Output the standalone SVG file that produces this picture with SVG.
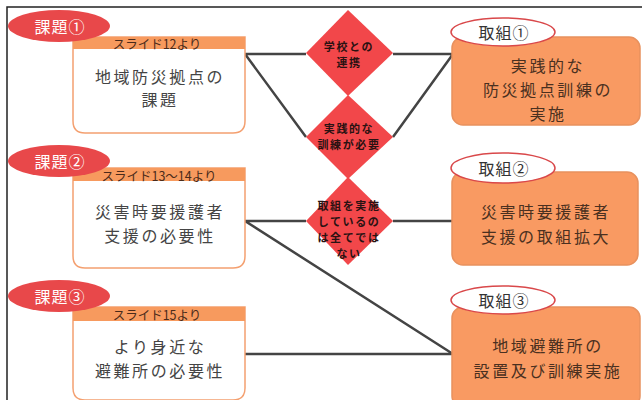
<svg xmlns="http://www.w3.org/2000/svg" width="642" height="400" viewBox="0 0 642 400">
<defs>
<style>
text{font-family:"Noto Sans CJK JP","Noto Sans",sans-serif;text-anchor:middle;dominant-baseline:central}
.tag{fill:#e8484a}
.tagt{fill:#fff;font-size:16px;letter-spacing:1px}
.otag{fill:#fff;stroke:#d9484a;stroke-width:1.5}
.otagt{fill:#333;font-size:16px;letter-spacing:1px}
.lbody{fill:#fff;stroke:#f4a070;stroke-width:1.5}
.lhead{fill:#f79a5e}
.lhdt{fill:#4a2a1a;font-size:12.5px}
.lt{fill:#444;font-size:16px;letter-spacing:2.6px}
.rbox{fill:#f99a62;stroke:#e8915e;stroke-width:1.5}
.rt{fill:#4a3020;font-size:16px;letter-spacing:2.6px}
.dia{fill:#f2474a}
.dt{fill:#2a1212;font-size:11px;letter-spacing:1.6px;font-weight:bold}
.ln{stroke:#444;stroke-width:2.5;fill:none}
</style>
</defs>
<rect x="0" y="0" width="642" height="400" fill="#fff"/>
<rect x="7" y="7" width="650" height="410" fill="none" stroke="#222" stroke-width="1.5"/>

<g id="connectors">
<path class="ln" d="M245 54 H306 M393 54 H453 M245 54 L306 137 M393 137 L453 54"/>
<path class="ln" d="M245 221 H306 M393 221 H453 M245 221 L453 354 M245 354 H453"/>
</g>

<g id="d1"><polygon class="dia" points="348,10 393,53 348,96 306,53"/>
<text class="dt" x="349" y="46">学校との</text><text class="dt" x="349" y="62">連携</text></g>
<g id="d2"><polygon class="dia" points="348,95 393,137 348,179 306,137"/>
<text class="dt" x="349" y="128">実践的な</text><text class="dt" x="349" y="144">訓練が必要</text></g>
<g id="d3"><polygon class="dia" points="348,177 393,221 348,265 306,221"/>
<text class="dt" x="349" y="205">取組を実施</text><text class="dt" x="349" y="221">しているの</text><text class="dt" x="349" y="237">は全てでは</text><text class="dt" x="349" y="253">ない</text></g>

<g id="k1">
<path class="lbody" d="M73 37 H245 V121 Q245 133 233 133 H85 Q73 133 73 121 Z"/>
<rect class="lhead" x="73" y="37" width="172" height="12"/>
<text class="lhdt" x="157" y="43">スライド12より</text>
<text class="lt" x="160" y="76">地域防災拠点の</text><text class="lt" x="160" y="99">課題</text>
<ellipse class="tag" cx="59" cy="26" rx="51" ry="16"/><text class="tagt" x="60" y="26">課題①</text>
</g>
<g id="k2">
<path class="lbody" d="M73 168 H245 V256 Q245 268 233 268 H85 Q73 268 73 256 Z"/>
<rect class="lhead" x="73" y="168" width="172" height="13"/>
<text class="lhdt" x="159" y="175">スライド13〜14より</text>
<text class="lt" x="160" y="211">災害時要援護者</text><text class="lt" x="160" y="235">支援の必要性</text>
<ellipse class="tag" cx="59" cy="161" rx="51" ry="16"/><text class="tagt" x="60" y="161">課題②</text>
</g>
<g id="k3">
<path class="lbody" d="M73 307 H245 V388 Q245 400 233 400 H85 Q73 400 73 388 Z"/>
<rect class="lhead" x="73" y="307" width="172" height="14"/>
<text class="lhdt" x="157" y="314">スライド15より</text>
<text class="lt" x="160" y="346">より身近な</text><text class="lt" x="160" y="370">避難所の必要性</text>
<ellipse class="tag" cx="59" cy="296" rx="51" ry="16"/><text class="tagt" x="60" y="296">課題③</text>
</g>

<g id="t1">
<rect class="rbox" x="452" y="37" width="188" height="88" rx="11"/>
<text class="rt" x="548" y="65">実践的な</text><text class="rt" x="548" y="89">防災拠点訓練の</text><text class="rt" x="548" y="113">実施</text>
<ellipse class="otag" cx="503" cy="32" rx="52" ry="14"/><text class="otagt" x="504" y="32">取組①</text>
</g>
<g id="t2">
<rect class="rbox" x="452" y="172" width="186" height="93" rx="11"/>
<text class="rt" x="546" y="211">災害時要援護者</text><text class="rt" x="546" y="236">支援の取組拡大</text>
<ellipse class="otag" cx="503" cy="168" rx="52" ry="15"/><text class="otagt" x="504" y="168">取組②</text>
</g>
<g id="t3">
<rect class="rbox" x="452" y="307" width="188" height="100" rx="11"/>
<text class="rt" x="548" y="345">地域避難所の</text><text class="rt" x="548" y="370">設置及び訓練実施</text>
<ellipse class="otag" cx="503" cy="300" rx="52" ry="14"/><text class="otagt" x="504" y="300">取組③</text>
</g>
</svg>
